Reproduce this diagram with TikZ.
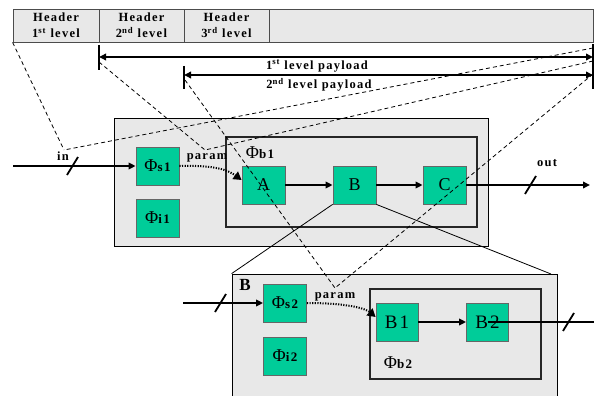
\documentclass[tikz,border=0pt]{standalone}
\usepackage{fontspec}
\setmainfont{Liberation Serif}
\newfontfamily\spaced[LetterSpace=12]{Liberation Serif}
\newfontfamily\spacedbf[LetterSpace=10]{Liberation Serif Bold}
\usetikzlibrary{arrows.meta}
\definecolor{boxgreen}{RGB}{0,204,153}
\definecolor{panel}{RGB}{232,232,232}
\newcommand{\phil}[1]{{\fontsize{18}{18}\selectfont Φ}{\spacedbf\fontsize{13}{12}\selectfont #1}}
\begin{document}
\begin{tikzpicture}[x=1pt,y=-1pt,
  blk/.style={draw=black!60, line width=0.8pt, fill=boxgreen, minimum width=43pt, minimum height=38pt, inner sep=0pt, font=\fontsize{18}{18}\selectfont},
  hdr/.style={draw=black!70, line width=0.8pt, fill=panel, minimum height=33pt, inner sep=0pt, align=center, font=\spacedbf\fontsize{12.5}{16}\selectfont},
  pnl/.style={draw=black, line width=0.8pt, fill=panel, inner sep=0pt},
  inner/.style={draw=black!85, line width=1.8pt, inner sep=0pt},
  flow/.style={line width=1.8pt, -{Triangle[length=7pt,width=6.5pt]}},
  plain/.style={line width=1.8pt},
  dsh/.style={line width=0.8pt, dash pattern=on 4pt off 3pt},
  thin/.style={line width=0.8pt},
  prm/.style={line width=2pt, dash pattern=on 1.2pt off 1.4pt, -{Triangle[length=8pt,width=9pt]}},
  lbl/.style={font=\spacedbf\fontsize{12.5}{12}\selectfont, inner sep=0pt},
  bar/.style={line width=2pt},
  paybar/.style={line width=2pt, {Triangle[length=7pt,width=6.5pt]}-{Triangle[length=7pt,width=6.5pt]}}
]
\useasboundingbox (0,0) rectangle (594,396);
\fill[white] (0,0) rectangle (594,396);

% header
\node[hdr, minimum width=86pt] (h1) at (56,25.5) {Header\\1\textsuperscript{st} level};
\node[hdr, minimum width=85pt] (h2) at (141.5,25.5) {Header\\2\textsuperscript{nd} level};
\node[hdr, minimum width=85pt] (h3) at (226.5,25.5) {Header\\3\textsuperscript{rd} level};
\node[hdr, minimum width=324pt] (h4) at (431,25.5) {};

% payload arrows
\coordinate (L1) at (99,57);
\coordinate (R1) at (593,57);
\coordinate (L2) at (184,75);
\coordinate (R2) at (593,75);
\draw[bar] (99,45) -- (99,70);
\draw[bar] (184,66) -- (184,89);
\draw[line width=1.4pt] (593,44) -- (593,89);
\draw[paybar] (L1) -- (R1);
\draw[paybar] (L2) -- (R2);
\node[lbl] (pl1) at (317,66) {1\textsuperscript{st} level payload};
\node[lbl] (pl2) at (319,85) {2\textsuperscript{nd} level payload};

% level 1 panel
\node[pnl, minimum width=374pt, minimum height=128pt] (lv1) at (301,182) {};
\node[inner, minimum width=251pt, minimum height=90pt] (b1) at (351.5,182) {};
\node[blk] (s1) at (157.5,166) {\phil{s1}};
\node[blk] (i1) at (157.5,218) {\phil{i1}};
\node[blk] (A) at (263.5,185) {A};
\node[blk] (B) at (354.5,185) {B};
\node[blk] (C) at (444.5,185) {C};
\node[inner sep=0pt] (b1lbl) at (260,153) {\phil{b1}};

% level 2 panel
\node[pnl, minimum width=325pt, minimum height=140pt] (lv2) at (394.5,344) {};
\node[inner, minimum width=171pt, minimum height=90pt] (b2) at (455.5,334) {};
\node[blk] (s2) at (285,303) {\phil{s2}};
\node[blk] (i2) at (285,356) {\phil{i2}};
\node[blk, minimum width=42pt, font=\spaced\fontsize{19}{19}\selectfont] (B1) at (397,322) {B1};
\node[blk, minimum width=42pt, font=\spaced\fontsize{19}{19}\selectfont] (B2) at (487.5,322) {B2};
\node[inner sep=0pt] (b2lbl) at (398,363) {\phil{b2}};
\node[inner sep=0pt, font=\spacedbf\fontsize{17}{17}\selectfont] (Blbl) at (245,285) {B};

% zoom lines from B
\coordinate (lv2ne) at (551,274);
\draw[thin] (B.south west) -- (lv2.north west);
\draw[thin] (B.south east) -- (lv2ne);

% level 1 flows
\coordinate (in1) at (13,166);
\coordinate (out1) at (590,185);
\draw[flow] (in1) -- (s1.west);
\draw[plain] (67,175) -- (78,157);
\draw[flow] (A) -- (B);
\draw[flow] (B) -- (C);
\draw[flow] (C.east) -- (out1);
\draw[plain] (525,194) -- (536,176);
\node[lbl] (inlbl) at (63,156) {in};
\node[lbl] (outlbl) at (547,163) {out};
\draw[prm] (s1.east) .. controls (215,165) and (228,170) .. ([yshift=5pt]A.west);
\node[lbl] (par1) at (207,158) {param};

% level 2 flows
\coordinate (in2) at (183,303);
\coordinate (out2) at (594,322);
\draw[flow] (in2) -- (s2.west);
\draw[plain] (215,312) -- (226,294);
\draw[flow] (B1) -- (B2.west);
\draw[plain] (B2.center) -- (out2);
\draw[plain] (563,331) -- (574,313);
\draw[prm] (s2.east) .. controls (345,303) and (365,308) .. ([yshift=5pt]B1.west);
\node[lbl] (par2) at (335,297) {param};

% dashed mapping lines
\coordinate (inapex) at (64,150);
\coordinate (p1apex) at (205,150);
\coordinate (p2apex) at (335,288);
\draw[dsh] (h1.south west) -- (inapex);
\draw[dsh] (593,48) -- (inapex);
\draw[dsh] (99,62) -- (p1apex);
\draw[dsh] (593,61) -- (p1apex);
\draw[dsh] (185,80) -- (p2apex);
\draw[dsh] (593,74) -- (p2apex);
\end{tikzpicture}
\end{document}
